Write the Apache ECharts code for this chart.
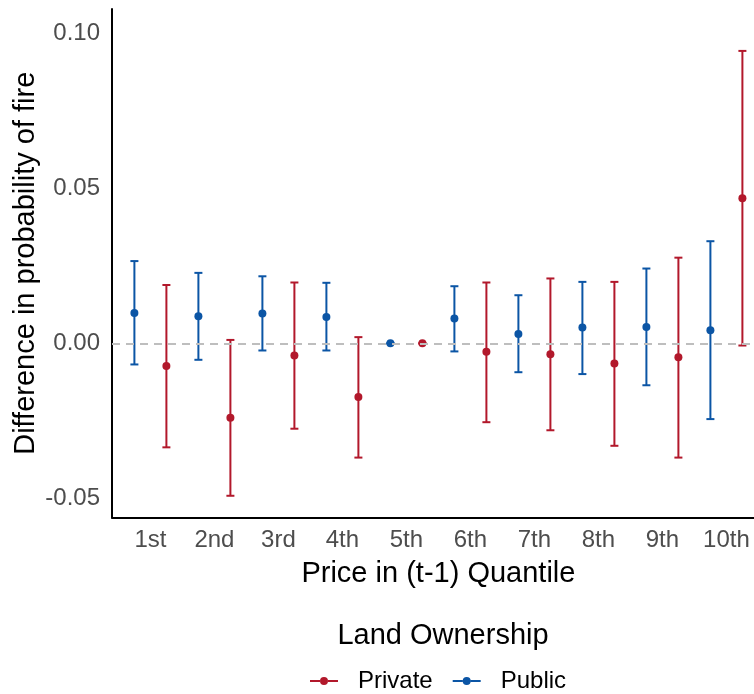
<!DOCTYPE html>
<html>
<head>
<meta charset="utf-8">
<script src="https://cdn.jsdelivr.net/npm/echarts@6/dist/echarts.min.js"></script>
<style>
html,body{margin:0;padding:0;background:#fff;}
#chart{width:754px;height:694px;}
</style>
</head>
<body>
<div id="chart"></div>
<script>
const categories = ['1st','2nd','3rd','4th','5th','6th','7th','8th','9th','10th'];
const yTicks = [-0.05, 0, 0.05, 0.10];

const privateEst = [-0.0073, -0.0240, -0.0039, -0.0173, 0, -0.0027, -0.0035, -0.0065, -0.0045, 0.0467];
const privateLo  = [-0.0335, -0.0491, -0.0275, -0.0368, 0, -0.0254, -0.0280, -0.0330, -0.0368, -0.0007];
const privateHi  = [ 0.0188,  0.0011,  0.0196,  0.0020, 0,  0.0196,  0.0209,  0.0198,  0.0276,  0.0942];

const publicEst = [0.0098, 0.0087, 0.0096, 0.0085, 0, 0.0080, 0.0030, 0.0051, 0.0053, 0.0042];
const publicLo  = [-0.0068, -0.0053, -0.0023, -0.0023, 0, -0.0026, -0.0093, -0.0099, -0.0135, -0.0244];
const publicHi  = [0.0265, 0.0227, 0.0216, 0.0195, 0, 0.0184, 0.0155, 0.0198, 0.0241, 0.0329];

const RED = '#B2182B';
const BLUE = '#0B55A5';
const FONT = '"Liberation Sans", Arial, sans-serif';
const DODGE = 0.25;

function pts(est, off){ return est.map((v,i)=>[i+1+off, v]); }
function bars(lo, hi, off){ return lo.map((v,i)=>[i+1+off, v, hi[i]]); }

function errRender(color){
  return function(params, api){
    const x = api.value(0);
    const a = api.coord([x, api.value(1)]);
    const b = api.coord([x, api.value(2)]);
    const w = 4;
    const st = {stroke: color, lineWidth: 2};
    return {type:'group', children:[
      {type:'line', shape:{x1:a[0], y1:a[1], x2:b[0], y2:b[1]}, style:st},
      {type:'line', shape:{x1:a[0]-w, y1:a[1], x2:a[0]+w, y2:a[1]}, style:st},
      {type:'line', shape:{x1:b[0]-w, y1:b[1], x2:b[0]+w, y2:b[1]}, style:st}
    ]};
  };
}

const icon = 'path://M0,3 L10,3 L10,5 L0,5 Z M18,3 L28,3 L28,5 L18,5 Z M10,4 A4,4 0 1,0 18,4 A4,4 0 1,0 10,4 Z';

const chart = echarts.init(document.getElementById('chart'), null, {renderer:'canvas'});
chart.setOption({
  animation: false,
  backgroundColor: '#ffffff',
  textStyle: {fontFamily: FONT},
  title: {
    text: 'Land Ownership',
    left: 438, top: 616, textAlign: 'center',
    textStyle: {fontFamily: FONT, fontSize: 29, fontWeight: 'normal', color: '#000'}
  },
  legend: {
    data: ['Private','Public'],
    left: 305, top: 664,
    itemWidth: 28, itemHeight: 8,
    itemGap: 20,
    icon: icon,
    textStyle: {fontFamily: FONT, fontSize: 24, color: '#000', padding: [0,0,0,15]}
  },
  grid: {left: 112, top: 9, width: 652.8, height: 508.5, containLabel: false, outerBoundsMode: 'none'},
  xAxis: {
    type: 'value', min: 0.4, max: 10.6,
    name: 'Price in (t-1) Quantile', nameLocation: 'middle', nameGap: 42,
    nameMoveOverlap: false,
    nameTextStyle: {fontFamily: FONT, fontSize: 29, color: '#000'},
    axisLine: {show: true, onZero: false, lineStyle: {color: '#000', width: 2}},
    axisTick: {show: false},
    splitLine: {show: false},
    axisLabel: {
      customValues: [1,2,3,4,5,6,7,8,9,10],
      formatter: v => categories[Math.round(v)-1] || '',
      fontFamily: FONT, fontSize: 24, color: '#4D4D4D', margin: 11
    }
  },
  yAxis: {
    type: 'value', min: -0.0561, max: 0.1077,
    name: 'Difference in probability of fire', nameLocation: 'middle', nameGap: 72,
    nameMoveOverlap: false,
    nameTextStyle: {fontFamily: FONT, fontSize: 29, color: '#000'},
    axisLine: {show: true, onZero: false, lineStyle: {color: '#000', width: 2}},
    axisTick: {show: false},
    splitLine: {show: false},
    axisLabel: {
      customValues: yTicks,
      formatter: v => v.toFixed(2),
      fontFamily: FONT, fontSize: 24, color: '#4D4D4D', margin: 12
    }
  },
  series: [
    {
      name: 'Private', type: 'scatter', data: pts(privateEst, DODGE),
      symbol: 'circle', symbolSize: 8, itemStyle: {color: RED, opacity: 1}, z: 3
    },
    {
      name: 'Public', type: 'scatter', data: pts(publicEst, -DODGE),
      symbol: 'circle', symbolSize: 8, itemStyle: {color: BLUE, opacity: 1}, z: 3,
      markLine: {
        silent: true, symbol: 'none', label: {show: false},
        lineStyle: {color: '#BEBEBE', type: [8,6], width: 2},
        data: [{yAxis: 0}], z: 10
      }
    },
    {
      name: 'privErr', type: 'custom', data: bars(privateLo, privateHi, DODGE),
      renderItem: errRender(RED), z: 2, encode: {x: 0, y: [1,2]}
    },
    {
      name: 'pubErr', type: 'custom', data: bars(publicLo, publicHi, -DODGE),
      renderItem: errRender(BLUE), z: 2, encode: {x: 0, y: [1,2]}
    }
  ]
});
</script>
</body>
</html>
